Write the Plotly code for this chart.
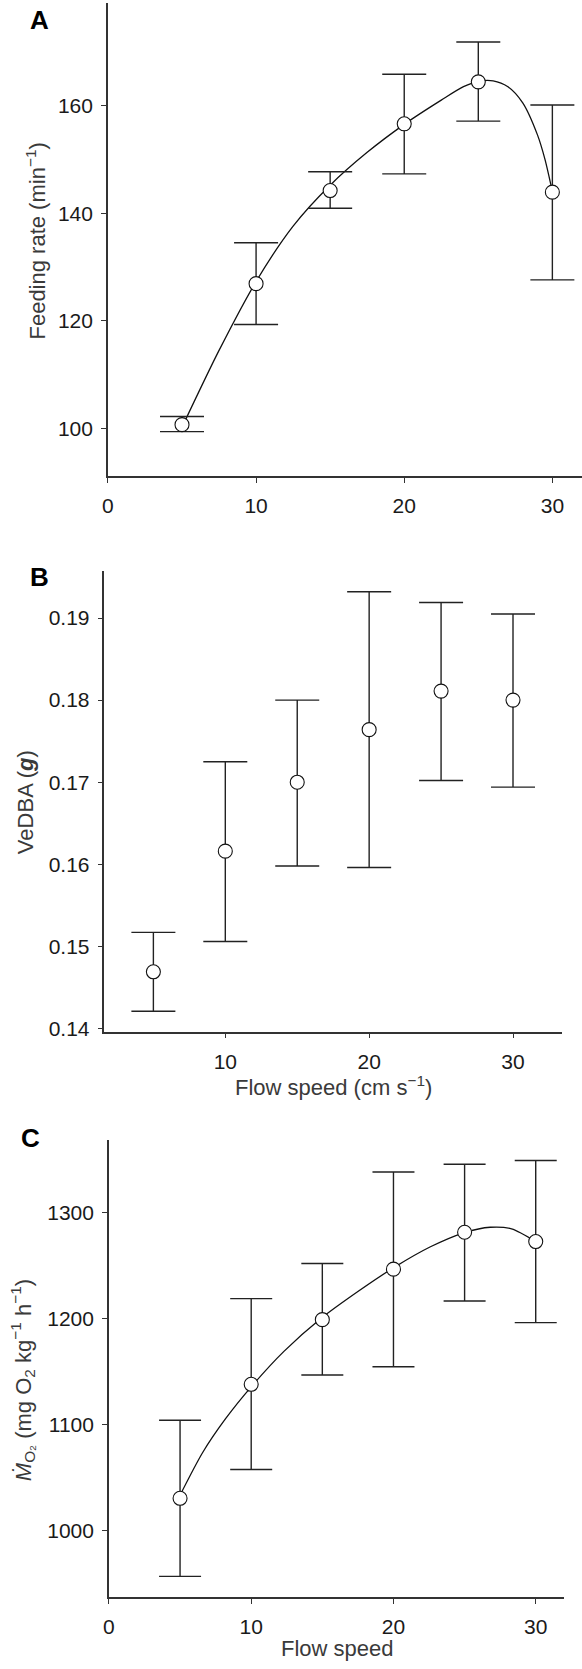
import plotly.graph_objects as go

W, H = 582, 1669

# ---------------- data ----------------
flow = [5, 10, 15, 20, 25, 30]

# Panel A: feeding rate
feed_mean = [100.7, 126.9, 144.2, 156.6, 164.4, 143.9]
feed_hi = [102.2, 134.5, 147.7, 165.8, 171.8, 160.1]
feed_lo = [99.4, 119.3, 140.9, 147.3, 157.1, 127.6]
feed_curve_x = [5.1, 7.5, 10.0, 12.5, 15.0, 17.5, 20.0, 22.5, 24.0, 25.0, 26.0, 27.0, 28.0, 29.0, 29.5, 30.0]
feed_curve_y = [100.8, 114.5, 127.3, 137.6, 145.2, 151.3, 156.5, 161.0, 163.5, 164.5, 164.6, 163.5, 160.5, 154.5, 150.0, 144.0]

# Panel B: VeDBA
vedba_mean = [0.1469, 0.1616, 0.1700, 0.1764, 0.1811, 0.1800]
vedba_hi = [0.1517, 0.1725, 0.1800, 0.1932, 0.1919, 0.1905]
vedba_lo = [0.1421, 0.1506, 0.1598, 0.1596, 0.1702, 0.1694]

# Panel C: MO2
mo2_mean = [1030.6, 1138.0, 1198.9, 1246.5, 1281.3, 1272.5]
mo2_hi = [1104.2, 1218.7, 1251.8, 1338.0, 1345.4, 1348.9]
mo2_lo = [957.0, 1057.7, 1146.8, 1154.6, 1216.5, 1196.1]
mo2_curve_x = [5.0, 6.6, 8.2, 10.0, 12.3, 14.9, 17.5, 20.05, 22.6, 25.0, 26.8, 28.3, 30.0]
mo2_curve_y = [1033.5, 1074.0, 1105.6, 1135.6, 1169.0, 1200.0, 1225.4, 1248.2, 1267.6, 1281.0, 1286.0, 1284.5, 1272.5]

# ---------------- helpers ----------------
def fx(px):
    return px / W

def fy(py):
    return 1 - py / H

AX = "#333333"
TXT = "#1a1a1a"
TTL = "#3a3a3a"
FONT = "Liberation Sans, Arial, sans-serif"

fig = go.Figure()

def add_points(xa, ya, mean, hi, lo, cap):
    plus = [h - m for h, m in zip(hi, mean)]
    minus = [m - l for m, l in zip(mean, lo)]
    fig.add_trace(go.Scatter(
        x=flow, y=mean, xaxis=xa, yaxis=ya, mode="markers",
        marker=dict(symbol="circle", size=14, color="white",
                    line=dict(color="#111111", width=1.1)),
        error_y=dict(type="data", array=plus, arrayminus=minus, symmetric=False,
                     color="#222222", thickness=1.4, width=cap),
        showlegend=False, cliponaxis=False))

def add_curve(xa, ya, cx, cy):
    fig.add_trace(go.Scatter(
        x=cx, y=cy, xaxis=xa, yaxis=ya, mode="lines",
        line=dict(color="#111111", width=1.3, shape="spline", smoothing=0.8),
        showlegend=False, hoverinfo="skip"))

add_curve("x", "y", feed_curve_x, feed_curve_y)
add_points("x", "y", feed_mean, feed_hi, feed_lo, 22)
add_points("x2", "y2", vedba_mean, vedba_hi, vedba_lo, 22)
add_curve("x3", "y3", mo2_curve_x, mo2_curve_y)
add_points("x3", "y3", mo2_mean, mo2_hi, mo2_lo, 21)

axis_common = dict(showline=True, linecolor=AX, linewidth=1.5, ticks="outside",
                   ticklen=5, tickwidth=1.3, tickcolor=AX, showgrid=False,
                   zeroline=False, tickfont=dict(family=FONT, size=21, color=TXT))

fig.update_layout(
    width=W, height=H, margin=dict(l=0, r=0, t=0, b=0),
    paper_bgcolor="white", plot_bgcolor="white",
    font=dict(family=FONT, color=TXT),
    xaxis=dict(domain=[fx(103), fx(582)], range=[0, 32], anchor="y",
               tickvals=[0, 10, 20, 30], ticklabelstandoff=5, **axis_common),
    yaxis=dict(domain=[fy(478.6), fy(3.3)], range=[91.1, 179], anchor="x",
               tickvals=[100, 120, 140, 160], ticklabelstandoff=4, **axis_common),
    xaxis2=dict(domain=[fx(99.5), fx(561.7)], range=[1.6, 33.4], anchor="y2",
                tickvals=[10, 20, 30], ticklabelstandoff=5, **axis_common),
    yaxis2=dict(domain=[fy(1036.7), fy(574)], range=[0.1396, 0.1957], anchor="x2",
                tickvals=[0.14, 0.15, 0.16, 0.17, 0.18, 0.19], tickformat=".2f",
                ticklabelstandoff=4, **axis_common),
    xaxis3=dict(domain=[fx(104), fx(564)], range=[0, 32], anchor="y3",
                tickvals=[0, 10, 20, 30], ticklabelstandoff=5, **axis_common),
    yaxis3=dict(domain=[fy(1605), fy(1145.7)], range=[937.3, 1368], anchor="x3",
                tickvals=[1000, 1100, 1200, 1300], ticklabelstandoff=4, **axis_common),
)

def ann(text, x, y, size, color=TTL, angle=0, bold=False):
    fig.add_annotation(
        text=("<b>%s</b>" % text) if bold else text,
        x=fx(x), y=fy(y), xref="paper", yref="paper",
        xanchor="center", yanchor="middle", showarrow=False, textangle=angle,
        font=dict(family=FONT, size=size, color=color))

# panel letters
ann("A", 34, 20, 26, color="#000000", bold=True)
ann("B", 33.5, 580, 26, color="#000000", bold=True)
ann("C", 25, 1143, 26, color="#000000", bold=True)

# axis titles
ann("Feeding rate (min<sup>−1</sup>)", 30, 242, 22, angle=-90)
ann("VeDBA (<b><i>g</i></b>)", 20.5, 805.7, 22, angle=-90)
ann("<i>Ṁ</i><sub>O₂</sub> (mg O<sub>2</sub> kg<sup>−1</sup> h<sup>−1</sup>)", 17, 1387, 22, angle=-90)
ann("Flow speed (cm s<sup>−1</sup>)", 330.8, 1091, 22)
ann("Flow speed", 335, 1656, 22)

fig.write_html("out.html")
